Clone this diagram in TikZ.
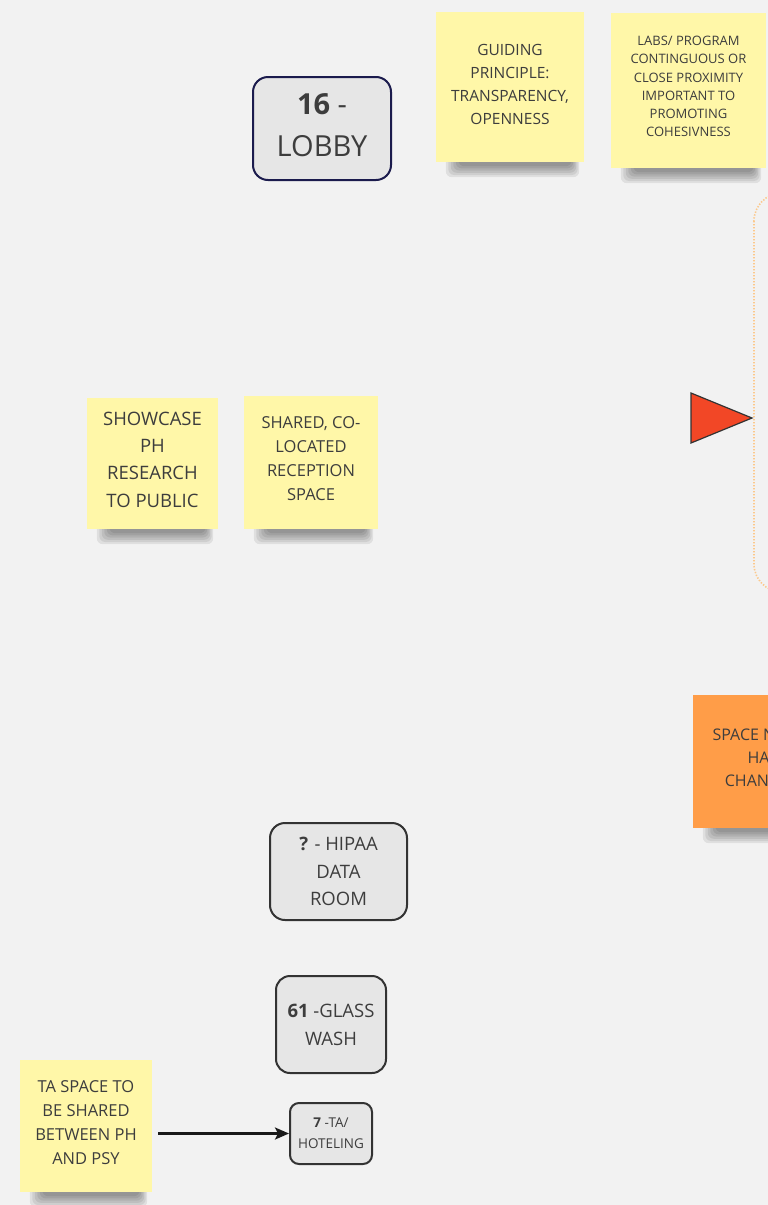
\documentclass[tikz,border=0pt]{standalone}
\usepackage{fontspec}
\setmainfont{Open Sans}
\usetikzlibrary{arrows.meta,calc,backgrounds}
\definecolor{bg}{HTML}{F2F2F2}
\definecolor{stickyY}{HTML}{FFF7A8}
\definecolor{stickyO}{HTML}{FF9D48}
\definecolor{nodefill}{HTML}{E6E6E6}
\definecolor{navy}{HTML}{1B1B4D}
\definecolor{txt}{HTML}{3D3D3D}
\definecolor{dotorange}{HTML}{FCC98C}
\definecolor{tri}{HTML}{F24726}
\begin{document}
\begin{tikzpicture}[x=1pt,y=-1pt,
  sticky/.style={fill=stickyY, inner sep=0pt},
  stext/.style={align=center, text=txt, inner sep=0pt},
  room/.style={fill=nodefill, draw=black!80, line width=2pt, align=center, text=txt, inner sep=0pt, rounded corners=15pt},
  shadowband/.style={fill=black, opacity=0.075, rounded corners=6pt}
]
\useasboundingbox (0,0) rectangle (768,1205);
\clip (0,0) rectangle (768,1205);

% rooms
\node[room, draw=navy, minimum width=138pt, minimum height=103pt] (lobby) at (322,128.5) {};
\node[stext, font=\fontsize{29}{42}\selectfont] (lobby-t) at ([yshift=3pt]lobby.center) {\textbf{16} -\\LOBBY};
\node[room, minimum width=137pt, minimum height=97pt, font=\fontsize{18.5}{27.5}\selectfont] (hipaa) at (338.5,871.5) {\textbf{?} - HIPAA\\DATA\\ROOM};
\node[room, rounded corners=14pt, minimum width=110pt, minimum height=97pt, font=\fontsize{18.5}{28}\selectfont] (glass) at (331,1024.5) {\textbf{61} -GLASS\\WASH};
\node[room, rounded corners=9pt, minimum width=82pt, minimum height=61pt, font=\fontsize{13.5}{21}\selectfont] (hotel) at (331,1133.5) {\textbf{7} -TA/\\HOTELING};

% stickies
\node[sticky, minimum width=148pt, minimum height=150pt] (guide) at (510,87) {};
\node[stext, font=\fontsize{15.5}{23}\selectfont] (guide-t) at ([yshift=3pt]guide.center) {GUIDING\\PRINCIPLE:\\TRANSPARENCY,\\OPENNESS};
\node[sticky, minimum width=155pt, minimum height=155pt] (labs) at (688.5,90.5) {};
\node[stext, font=\fontsize{13}{18.3}\selectfont] (labs-t) at ([yshift=4pt]labs.center) {LABS/ PROGRAM\\CONTINGUOUS OR\\CLOSE PROXIMITY\\IMPORTANT TO\\PROMOTING\\COHESIVNESS};
\node[sticky, minimum width=131pt, minimum height=131pt] (show) at (152.5,463.5) {};
\node[stext, font=\fontsize{18.5}{27.3}\selectfont] (show-t) at ([yshift=4pt]show.center) {SHOWCASE\\PH\\RESEARCH\\TO PUBLIC};
\node[sticky, minimum width=134pt, minimum height=133pt] (shared) at (311,462.5) {};
\node[stext, font=\fontsize{16.5}{24}\selectfont] (shared-t) at ([yshift=4pt]shared.center) {SHARED, CO-\\LOCATED\\RECEPTION\\SPACE};
\node[sticky, fill=stickyO, minimum width=140pt, minimum height=133pt] (space) at (763,761.5) {};
\node[stext, font=\fontsize{16}{23}\selectfont] (space-t) at ([yshift=4pt]space.center) {SPACE NEEDS\\HAS\\CHANGED};
\node[sticky, minimum width=132pt, minimum height=132pt] (ta) at (86,1126) {};
\node[stext, font=\fontsize{16.5}{24}\selectfont] (ta-t) at ([yshift=3pt]ta.center) {TA SPACE TO\\BE SHARED\\BETWEEN PH\\AND PSY};

% dotted frame and red triangle
\draw[dotorange, line width=1.6pt, dash pattern=on 1.4pt off 1.6pt, rounded corners=28pt] (754,193) rectangle (930,592);
\filldraw[fill=tri, draw=black!80, line width=1.2pt] (691,393) -- (752,418) -- (691,443) -- cycle;

% arrow
\draw[black!90, line width=2.4pt, -{Stealth[length=14pt,width=12pt,inset=3pt]}] ([xshift=6pt]ta.east |- hotel.west) -- (hotel.west);

\begin{pgfonlayer}{background}
\fill[bg] (0,0) rectangle (768,1205);
\foreach \n in {guide,labs,show,shared,space,ta}{
  \foreach \i in {0,...,5}{
    \fill[shadowband] ($(\n.south west)+(10+2.5*\i,-8)$) rectangle ($(\n.south east)+(-5-1.5*\i,15-2.2*\i)$);
  }
}
\end{pgfonlayer}
\end{tikzpicture}
\end{document}
